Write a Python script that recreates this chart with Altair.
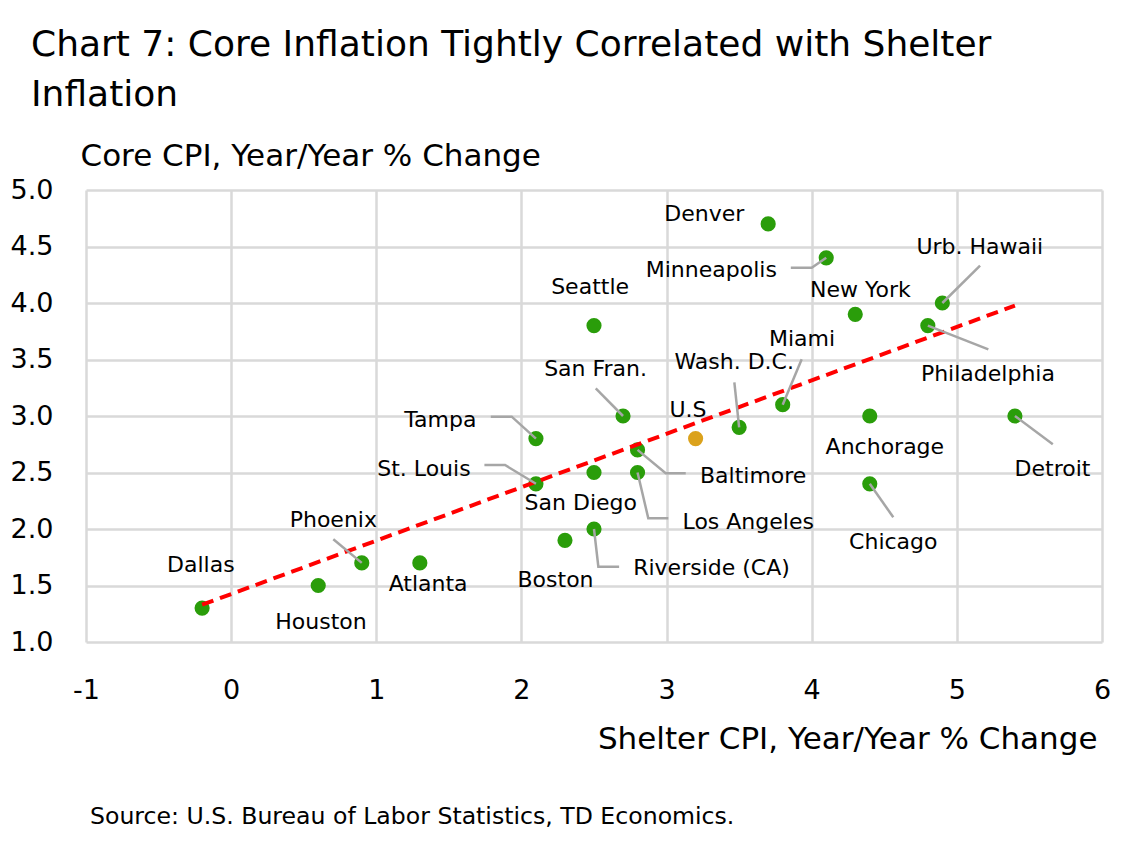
import altair as alt
import pandas as pd

FONT = "DejaVu Sans"

# Metro areas: shelter CPI vs core CPI, year/year % change
cities = ["Dallas", "Houston", "Phoenix", "Atlanta", "Tampa", "St. Louis", "Seattle",
          "San Fran.", "San Diego", "Boston", "Riverside (CA)", "Baltimore", "Los Angeles",
          "Wash. D.C.", "Miami", "Denver", "Minneapolis", "New York", "Urb. Hawaii",
          "Philadelphia", "Anchorage", "Chicago", "Detroit"]
shelter = [-0.2, 0.6, 0.9, 1.3, 2.1, 2.1, 2.5, 2.7, 2.5, 2.3, 2.5, 2.8, 2.8,
           3.5, 3.8, 3.7, 4.1, 4.3, 4.9, 4.8, 4.4, 4.4, 5.4]
core = [1.3, 1.5, 1.7, 1.7, 2.8, 2.4, 3.8, 3.0, 2.5, 1.9, 2.0, 2.7, 2.5,
        2.9, 3.1, 4.7, 4.4, 3.9, 4.0, 3.8, 3.0, 2.4, 3.0]

# National figure
us_name = "U.S"
us_shelter = 3.2
us_core = 2.8

# Label anchors (data units) and alignment
label_text = ["Dallas", "Houston", "Phoenix", "Atlanta", "Tampa", "St. Louis", "Seattle",
              "San Fran.", "San Diego", "Boston", "Riverside (CA)", "Baltimore", "Los Angeles",
              "Wash. D.C.", "Miami", "Denver", "Minneapolis", "New York", "Urb. Hawaii",
              "Philadelphia", "Anchorage", "Chicago", "Detroit", "U.S"]
label_x = [-0.209, 0.619, 0.704, 1.357, 1.69, 1.65, 2.473,
           2.511, 2.409, 2.235, 2.77, 3.23, 3.11,
           3.466, 3.933, 3.26, 3.76, 4.335, 5.158,
           5.214, 4.504, 4.562, 5.659, 3.148]
label_y = [1.681, 1.18, 2.08, 1.513, 2.965, 2.531, 4.142,
           3.416, 2.227, 1.549, 1.652, 2.469, 2.065,
           3.48, 3.68, 4.79, 4.29, 4.115, 4.498,
           3.372, 2.723, 1.888, 2.528, 3.053]
label_align = ["center", "center", "center", "center", "right", "right", "center",
               "center", "center", "center", "left", "left", "left",
               "center", "center", "center", "right", "center", "center",
               "center", "center", "center", "center", "center"]

# Leader lines: vertices per city, in data units
leader_name = ["Phoenix", "Phoenix",
               "Tampa", "Tampa", "Tampa",
               "St. Louis", "St. Louis", "St. Louis",
               "San Fran.", "San Fran.",
               "Wash. D.C.", "Wash. D.C.",
               "Miami", "Miami",
               "Baltimore", "Baltimore", "Baltimore",
               "Los Angeles", "Los Angeles", "Los Angeles",
               "Riverside (CA)", "Riverside (CA)", "Riverside (CA)",
               "Minneapolis", "Minneapolis", "Minneapolis",
               "Urb. Hawaii", "Urb. Hawaii",
               "Philadelphia", "Philadelphia",
               "Detroit", "Detroit",
               "Chicago", "Chicago"]
leader_step = [0, 1,
               0, 1, 2,
               0, 1, 2,
               0, 1,
               0, 1,
               0, 1,
               0, 1, 2,
               0, 1, 2,
               0, 1, 2,
               0, 1, 2,
               0, 1,
               0, 1,
               0, 1,
               0, 1]
leader_x = [0.704, 0.9,
            1.789, 1.933, 2.1,
            1.745, 1.887, 2.1,
            2.512, 2.7,
            3.467, 3.5,
            3.931, 3.8,
            2.8, 2.994, 3.132,
            2.8, 2.874, 3.012,
            2.5, 2.53, 2.673,
            3.856, 4.0, 4.1,
            5.16, 4.9,
            4.8, 5.217,
            5.4, 5.661,
            4.4, 4.562]
leader_y = [1.909, 1.7,
            2.994, 2.994, 2.8,
            2.566, 2.566, 2.4,
            3.245, 3.0,
            3.298, 2.9,
            3.502, 3.1,
            2.7, 2.493, 2.493,
            2.5, 2.095, 2.095,
            2.0, 1.666, 1.666,
            4.312, 4.312, 4.4,
            4.33, 4.0,
            3.8, 3.59,
            3.0, 2.75,
            2.4, 2.104]

source_note = "Source: U.S. Bureau of Labor Statistics, TD Economics."

points = pd.DataFrame({
    "name": cities + [us_name],
    "shelter": shelter + [us_shelter],
    "core": core + [us_core],
    "kind": ["City"] * len(cities) + ["National"],
})
city_df = points[points["kind"] == "City"]
labels = pd.DataFrame({"text": label_text, "x": label_x, "y": label_y, "align": label_align})
leaders = pd.DataFrame({"name": leader_name, "step": leader_step, "x": leader_x, "y": leader_y})

x_scale = alt.Scale(domain=[-1, 6], nice=False, zero=False)
y_scale = alt.Scale(domain=[1, 5], nice=False, zero=False)

x_axis = alt.Axis(
    values=[-1, 0, 1, 2, 3, 4, 5, 6], labelExpr="datum.value + ''",
    title="Shelter CPI, Year/Year % Change", labelFlush=False,
    titleAlign="right", titleAnchor="end", titleX=1011, titleY=106, titleBaseline="alphabetic",
    labelPadding=35, grid=True,
)
y_axis = alt.Axis(
    values=[1.0, 1.5, 2.0, 2.5, 3.0, 3.5, 4.0, 4.5, 5.0], format=".1f",
    title="Core CPI, Year/Year % Change", titleAngle=0, titleAlign="left",
    titleX=-6, titleY=-25, titleBaseline="alphabetic", labelPadding=33, grid=True,
)

base = alt.Chart(points)

dots = base.mark_circle(size=230, opacity=1).encode(
    x=alt.X("shelter:Q", scale=x_scale, axis=x_axis),
    y=alt.Y("core:Q", scale=y_scale, axis=y_axis),
    color=alt.Color("kind:N", scale=alt.Scale(domain=["City", "National"],
                                              range=["#2a9d0a", "#dba21c"]), legend=None),
)

trend = alt.Chart(city_df).transform_regression(
    "shelter", "core", extent=[-0.2, 5.4]
).mark_line(color="#ff0000", strokeWidth=4, strokeDash=[12, 7]).encode(
    x=alt.X("shelter:Q", scale=x_scale),
    y=alt.Y("core:Q", scale=y_scale),
)

leader_lines = alt.Chart(leaders).mark_line(color="#a6a6a6", strokeWidth=2.5).encode(
    x=alt.X("x:Q", scale=x_scale),
    y=alt.Y("y:Q", scale=y_scale),
    detail="name:N",
    order="step:Q",
)

def label_layer(align):
    return alt.Chart(labels[labels["align"] == align]).mark_text(
        align=align, baseline="middle", fontSize=22, font=FONT, color="#000000"
    ).encode(
        x=alt.X("x:Q", scale=x_scale),
        y=alt.Y("y:Q", scale=y_scale),
        text="text:N",
    )

note = alt.Chart(pd.DataFrame({"note": [source_note]})).mark_text(
    align="left", baseline="alphabetic", fontSize=23.6, font=FONT, color="#000000"
).encode(x=alt.value(4), y=alt.value(634), text="note:N")

chart = alt.layer(
    dots, trend, leader_lines,
    label_layer("center"), label_layer("left"), label_layer("right"),
    note,
).properties(
    width=1016,
    height=452,
    background="white",
    padding={"left": 86, "top": 190, "right": 39, "bottom": 206},
    autosize=alt.AutoSizeParams(type="none"),
    title=alt.TitleParams(
        text=["Chart 7: Core Inflation Tightly Correlated with Shelter", "Inflation"],
        anchor="start", frame="group", dx=-55, fontSize=36, fontWeight="normal",
        lineHeight=50, offset=26, color="#000000", font=FONT,
    ),
).configure_view(stroke=None).configure_axis(
    domain=False, ticks=False, gridColor="#d9d9d9", gridWidth=2.5,
    labelFont=FONT, labelFontSize=27, labelColor="#000000",
    titleFont=FONT, titleFontSize=31, titleFontWeight="normal", titleColor="#000000",
)

chart.save("out.html", embed_options={"renderer": "svg", "actions": False})
